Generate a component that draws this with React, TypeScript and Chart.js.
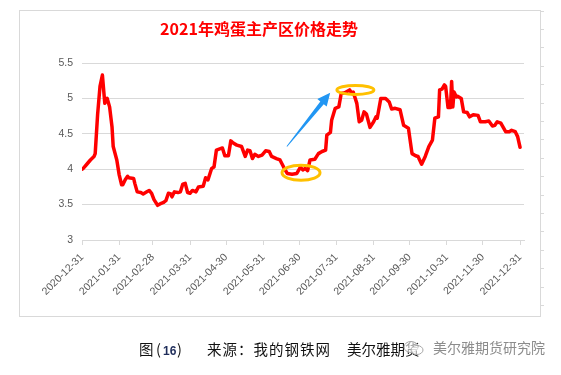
import React, { useEffect, useRef } from "react";
import { Chart, registerables } from "chart.js";

Chart.register(...registerables);

// ---- data ----
const TITLE = "2021年鸡蛋主产区价格走势";
const BASE_DATE = "2020-12-31";
const tickDates = [
  "2020-12-31", "2021-01-31", "2021-02-28", "2021-03-31", "2021-04-30", "2021-05-31",
  "2021-06-30", "2021-07-31", "2021-08-31", "2021-09-30", "2021-10-31", "2021-11-30", "2021-12-31",
];
// days since 2020-12-31
const dayOffsets = [
  0, 1, 4, 7, 10, 11, 13, 15, 17, 19, 21, 23, 25, 26, 29, 31, 33, 34, 36, 38, 39, 43, 44, 46, 49, 51,
  54, 56, 58, 60, 63, 65, 68, 70, 72, 74, 75, 77, 80, 82, 84, 86, 88, 90, 92, 95, 97, 101, 103, 105,
  108, 110, 112, 117, 119, 122, 124, 126, 129, 133, 136, 138, 140, 142, 144, 147, 150, 153, 156, 158,
  162, 165, 168, 171, 175, 179, 182, 184, 186, 188, 190, 194, 197, 200, 203, 204, 207, 208, 211, 214,
  216, 219, 223, 225, 226, 229, 231, 233, 235, 237, 240, 243, 245, 246, 249, 253, 256, 258, 261, 265,
  268, 272, 275, 278, 280, 283, 286, 289, 292, 294, 297, 298, 300, 302, 303, 305, 307, 308, 309, 310,
  312, 313, 316, 318, 321, 323, 326, 330, 332, 336, 339, 342, 344, 346, 349, 353, 356, 358, 361, 363, 365,
];
const prices = [
  4.0, 4.01, 4.07, 4.13, 4.18, 4.22, 4.77, 5.17, 5.33, 4.93, 5.0, 4.88, 4.6, 4.32, 4.13, 3.92, 3.78, 3.78,
  3.85, 3.9, 3.88, 3.87, 3.8, 3.68, 3.67, 3.65, 3.68, 3.7, 3.66, 3.57, 3.49, 3.51, 3.53, 3.56, 3.66, 3.65,
  3.61, 3.68, 3.67, 3.68, 3.79, 3.8, 3.67, 3.66, 3.7, 3.68, 3.75, 3.76, 3.88, 3.85, 4.01, 4.03, 4.27, 4.3,
  4.19, 4.19, 4.4, 4.37, 4.34, 4.32, 4.18, 4.27, 4.26, 4.15, 4.21, 4.18, 4.2, 4.26, 4.25, 4.18, 4.15, 4.13,
  4.03, 3.94, 3.93, 3.94, 4.03, 3.99, 4.01, 3.98, 4.13, 4.14, 4.22, 4.25, 4.27, 4.48, 4.52, 4.69, 4.86,
  4.88, 5.07, 5.08, 5.12, 5.07, 5.09, 4.93, 4.67, 4.69, 4.81, 4.78, 4.59, 4.67, 4.74, 4.72, 5.0, 5.0, 4.95,
  4.85, 4.86, 4.84, 4.62, 4.58, 4.22, 4.19, 4.18, 4.07, 4.18, 4.32, 4.41, 4.72, 4.74, 5.12, 5.13, 5.19,
  5.17, 4.87, 4.87, 5.24, 4.88, 5.09, 5.02, 5.03, 5.0, 4.81, 4.8, 4.74, 4.77, 4.76, 4.67, 4.67, 4.68, 4.61,
  4.62, 4.67, 4.65, 4.53, 4.53, 4.55, 4.53, 4.46, 4.31,
];
const yTicks = [3, 3.5, 4, 4.5, 5, 5.5];
const yTickLabels = ["3", "3.5", "4", "4.5", "5", "5.5"];

// annotation anchors (data coordinates)
const ellipseCenters = [
  { day: 182.5, value: 3.95 },
  { day: 227.8, value: 5.12 },
];
const arrowFrom = { day: 170.7, value: 4.32 };
const arrowTo = { day: 206.8, value: 5.08 };

const dayOf = (d: string) =>
  Math.round((Date.parse(d + "T00:00:00Z") - Date.parse(BASE_DATE + "T00:00:00Z")) / 86400000);
const tickDays = tickDates.map(dayOf);

const GRID = "#d9d9d9";
const LABEL = "#595959";

const decorPlugin = {
  id: "decor",
  beforeDraw(chart: any) {
    const { ctx } = chart;
    ctx.save();
    ctx.fillStyle = "#ffffff";
    ctx.fillRect(0, 0, chart.width, chart.height);
    ctx.strokeStyle = GRID;
    ctx.lineWidth = 1;
    ctx.strokeRect(19.5, 10.5, 521, 306);
    ctx.beginPath();
    for (let yy = 10.5; yy <= 317; yy += 18.4) {
      ctx.moveTo(541, Math.round(yy) + 0.5);
      ctx.lineTo(544, Math.round(yy) + 0.5);
    }
    ctx.stroke();
    ctx.fillStyle = "#ff0000";
    ctx.font = "bold 16px 'Noto Sans CJK SC', sans-serif";
    ctx.textAlign = "center";
    ctx.textBaseline = "middle";
    ctx.fillText(TITLE, 259, 29);
    ctx.restore();
  },
  afterDatasetsDraw(chart: any) {
    const { ctx } = chart;
    const xs = chart.scales.x;
    const ys = chart.scales.y;
    ctx.save();
    ctx.strokeStyle = "#FFC000";
    ctx.lineWidth = 3;
    const radii = [
      [19, 7.5],
      [18.5, 4.5],
    ];
    ellipseCenters.forEach((e, i) => {
      ctx.beginPath();
      ctx.ellipse(xs.getPixelForValue(e.day), ys.getPixelForValue(e.value), radii[i][0], radii[i][1], 0, 0, Math.PI * 2);
      ctx.stroke();
    });
    const x0 = xs.getPixelForValue(arrowFrom.day);
    const y0 = ys.getPixelForValue(arrowFrom.value);
    const x1 = xs.getPixelForValue(arrowTo.day);
    const y1 = ys.getPixelForValue(arrowTo.value);
    const dx = x1 - x0, dy = y1 - y0, len = Math.hypot(dx, dy);
    const ux = dx / len, uy = dy / len, nx = -uy, ny = ux;
    const headLen = 13, headW = 6, shaftW = 2.2, tailW = 0.4;
    const bx = x1 - ux * headLen, by = y1 - uy * headLen;
    ctx.fillStyle = "#2196F3";
    ctx.beginPath();
    ctx.moveTo(x0 + nx * tailW, y0 + ny * tailW);
    ctx.lineTo(bx + nx * shaftW, by + ny * shaftW);
    ctx.lineTo(bx + nx * headW, by + ny * headW);
    ctx.lineTo(x1, y1);
    ctx.lineTo(bx - nx * headW, by - ny * headW);
    ctx.lineTo(bx - nx * shaftW, by - ny * shaftW);
    ctx.lineTo(x0 - nx * tailW, y0 - ny * tailW);
    ctx.closePath();
    ctx.fill();
    ctx.restore();
  },
};

export default function App() {
  const ref = useRef<HTMLCanvasElement | null>(null);
  useEffect(() => {
    if (!ref.current) return;
    const chart = new Chart(ref.current, {
      type: "line",
      data: {
        datasets: [
          {
            data: dayOffsets.map((d, i) => ({ x: d, y: prices[i] })),
            borderColor: "#ff0000",
            borderWidth: 3.5,
            pointRadius: 0,
            tension: 0,
            borderJoinStyle: "round",
            borderCapStyle: "round",
          },
        ],
      },
      options: {
        animation: false,
        responsive: false,
        devicePixelRatio: 1,
        layout: { padding: { top: 63, right: 37, left: 0, bottom: 0 } },
        plugins: { legend: { display: false }, title: { display: false }, tooltip: { enabled: false } },
        scales: {
          x: {
            type: "linear",
            min: 0,
            max: 368.3,
            afterBuildTicks: (scale: any) => {
              scale.ticks = tickDays.map((v) => ({ value: v }));
            },
            afterFit: (scale: any) => {
              scale.height = 135;
            },
            grid: { drawOnChartArea: false, drawTicks: true, tickLength: 5, color: GRID },
            border: { display: true, color: GRID },
            ticks: {
              autoSkip: false,
              minRotation: 45,
              maxRotation: 45,
              padding: 6,
              color: LABEL,
              font: { size: 10.5, family: "'Liberation Sans', sans-serif" },
              callback: (_v: any, i: number) => tickDates[i],
            },
          },
          y: {
            min: 3,
            max: 5.5,
            afterBuildTicks: (scale: any) => {
              scale.ticks = yTicks.map((v) => ({ value: v }));
            },
            afterFit: (scale: any) => {
              scale.width = 82;
            },
            grid: { color: GRID, drawTicks: false },
            border: { display: false },
            ticks: {
              padding: 9,
              color: LABEL,
              font: { size: 10.5, family: "'Liberation Sans', sans-serif" },
              callback: (_v: any, i: number) => yTickLabels[i],
            },
          },
        },
      },
      plugins: [decorPlugin],
    } as any);
    return () => chart.destroy();
  }, []);

  const cap: React.CSSProperties = {
    position: "absolute",
    top: 340,
    fontFamily: "'Noto Sans CJK SC', sans-serif",
    fontSize: 14.5,
    lineHeight: "18px",
    color: "#111",
    whiteSpace: "nowrap",
  };
  return (
    <div style={{ position: "fixed", left: 0, top: 0, width: 561, height: 375, background: "#fff", overflow: "hidden" }}>
      <canvas ref={ref} width={561} height={375} style={{ display: "block" }} />
      <div style={{ ...cap, left: 139 }}>图</div>
      <div style={{ ...cap, left: 156 }}>(</div>
      <div style={{ ...cap, left: 163, color: "#1f2d5a", fontFamily: "'Liberation Sans', sans-serif", fontWeight: "bold", fontSize: 12, top: 342 }}>16</div>
      <div style={{ ...cap, left: 177 }}>)</div>
      <div style={{ ...cap, left: 207, letterSpacing: 1 }}>来源：我的钢铁网</div>
      <div style={{ ...cap, left: 347 }}>美尔雅期货</div>
      <svg style={{ position: "absolute", left: 402, top: 339 }} width={24} height={18}>
        <ellipse cx={9} cy={8} rx={7} ry={5.5} fill="rgba(255,255,255,0.6)" stroke="#a6a6a6" strokeWidth={1} />
        <ellipse cx={15} cy={11} rx={6} ry={4.5} fill="rgba(255,255,255,0.6)" stroke="#a6a6a6" strokeWidth={1} />
      </svg>
      <div
        style={{
          ...cap,
          left: 433,
          top: 338,
          fontSize: 14,
          color: "#8c8c8c",
          textShadow: "0 0 2px #fff, 0 0 2px #fff",
        }}
      >
        美尔雅期货研究院
      </div>
    </div>
  );
}
